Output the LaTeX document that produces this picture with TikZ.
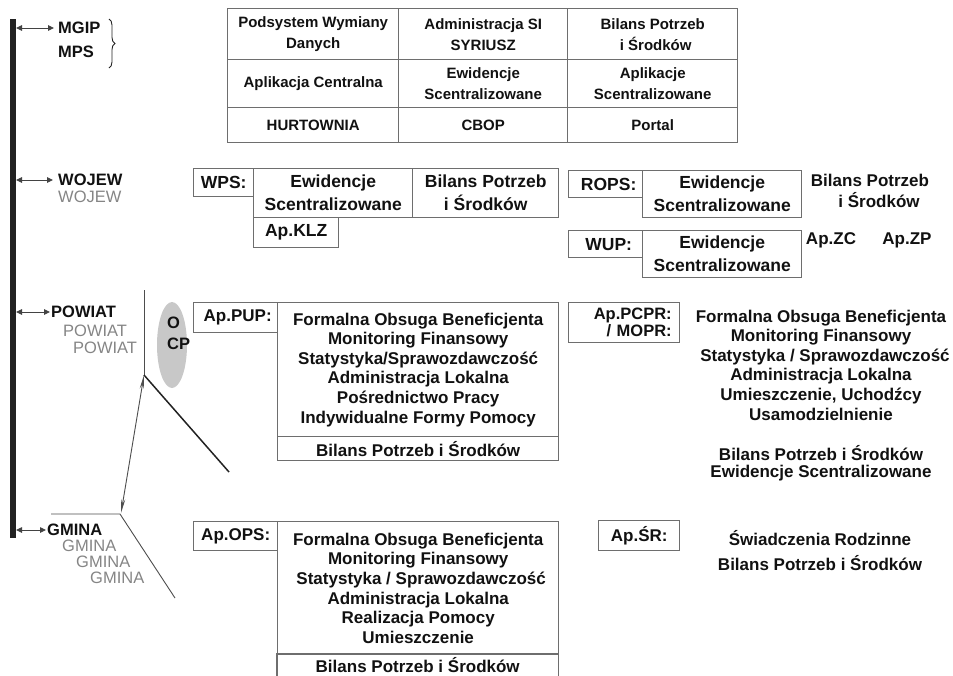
\documentclass[tikz,border=0pt]{standalone}
\usepackage{fontspec}
\setmainfont{Liberation Sans}
\usetikzlibrary{arrows.meta,decorations.pathreplacing,shapes.geometric}
\definecolor{boxline}{HTML}{6E6E6E}
\definecolor{txt}{HTML}{111111}
\definecolor{lgray}{HTML}{858585}
\definecolor{barc}{HTML}{222222}
\definecolor{ocpfill}{HTML}{C8C8C8}
\begin{document}
\begin{tikzpicture}[x=1pt,y=-1pt,
  box/.style={draw=boxline, line width=1.4pt, inner sep=1pt, anchor=north west, align=center, text=txt},
  tblf/.style={font=\fontsize{15}{21}\selectfont\bfseries},
  rowf/.style={font=\fontsize{17.5}{23}\selectfont\bfseries},
  listf/.style={font=\fontsize{17}{19.6}\selectfont\bfseries},
  lvl/.style={anchor=west, inner sep=0pt, font=\fontsize{16.5}{18}\selectfont\bfseries, text=txt},
  lvlg/.style={anchor=west, inner sep=0pt, font=\fontsize{16.5}{18}\selectfont, text=lgray},
  plain/.style={align=center, text=txt, inner sep=0pt},
  lvlarrow/.style={draw=barc!85, line width=0.9pt, {Triangle[length=6pt,width=5.5pt]}-{Triangle[length=6pt,width=5.5pt]}},
  guide/.style={draw=boxline!70!black, line width=0.9pt},
]
\useasboundingbox (0,0) rectangle (953,675);
% ---------- vertical bar and level labels
\fill[barc] (10,19) rectangle (16,538);
\coordinate (b1) at (16,28);
\coordinate (b2) at (16,180);
\coordinate (b3) at (16,312);
\coordinate (b4) at (16,530);
\node[lvl] (mgip) at (58,28) {MGIP};
\node[lvl] (mps) at (58,52) {MPS};
\node[lvl] (woj) at (58,180) {WOJEW};
\node[lvlg] (woj2) at (58,197) {WOJEW};
\node[lvl] (pow) at (51,312) {POWIAT};
\node[lvlg] (pow2) at (63,331) {POWIAT};
\node[lvlg] (pow3) at (73,348) {POWIAT};
\node[lvl] (gmi) at (47,530) {GMINA};
\node[lvlg] (gmi2) at (62,546) {GMINA};
\node[lvlg] (gmi3) at (76,562) {GMINA};
\node[lvlg] (gmi4) at (90,578) {GMINA};
\draw[lvlarrow] (b1) -- ([xshift=-4pt]mgip.west);
\draw[lvlarrow] (b2) -- ([xshift=-5pt]woj.west);
\draw[lvlarrow] (b3) -- ([xshift=-1pt]pow.west);
\draw[lvlarrow] (b4) -- ([xshift=-1pt]gmi.west);
\draw[barc, line width=0.9pt, decorate, decoration={brace, amplitude=6pt}] (109,19) -- (109,68);
% ---------- top table
\node[box, tblf, minimum width=171pt, minimum height=51pt] (t11) at (227,8) {Podsystem Wymiany\\Danych};
\node[box, tblf, minimum width=169pt, minimum height=51pt] (t12) at (398,8) {Administracja SI\\SYRIUSZ};
\node[box, tblf, minimum width=170pt, minimum height=51pt] (t13) at (567,8) {Bilans Potrzeb\\\hspace*{6pt}i Środków};
\node[box, tblf, minimum width=171pt, minimum height=48pt] (t21) at (227,59) {Aplikacja Centralna};
\node[box, tblf, minimum width=169pt, minimum height=48pt] (t22) at (398,59) {Ewidencje\\Scentralizowane};
\node[box, tblf, minimum width=170pt, minimum height=48pt] (t23) at (567,59) {Aplikacje\\Scentralizowane};
\node[box, tblf, minimum width=171pt, minimum height=35pt] (t31) at (227,107) {HURTOWNIA};
\node[box, tblf, minimum width=169pt, minimum height=35pt] (t32) at (398,107) {CBOP};
\node[box, tblf, minimum width=170pt, minimum height=35pt] (t33) at (567,107) {Portal};
% ---------- WOJEW row
\node[box, rowf, minimum width=60pt, minimum height=28pt] (wps) at (193,168) {WPS:};
\node[box, rowf, minimum width=159pt, minimum height=49pt] (wpsE) at (253,168) {Ewidencje\\Scentralizowane};
\node[box, rowf, minimum width=146pt, minimum height=49pt] (wpsB) at (412,168) {Bilans Potrzeb\\i Środków};
\node[box, rowf, minimum width=85pt, minimum height=30pt] (klz) at (253,217) {Ap.KLZ};
\node[box, rowf, minimum width=74pt, minimum height=27pt] (rops) at (568,170) {\hspace*{6pt}ROPS:};
\node[box, rowf, minimum width=159pt, minimum height=47pt] (ropsE) at (642,170) {Ewidencje\\Scentralizowane};
\node[plain, font=\fontsize{17}{21}\selectfont\bfseries] (ropsB) at (870,191) {Bilans Potrzeb\\\hspace*{18pt}i Środków};
\node[box, rowf, minimum width=74pt, minimum height=27pt] (wup) at (568,230) {\hspace*{6pt}WUP:};
\node[box, rowf, minimum width=159pt, minimum height=47pt] (wupE) at (642,230) {Ewidencje\\Scentralizowane};
\node[plain, font=\fontsize{17}{21}\selectfont\bfseries] (zc) at (831,240) {Ap.ZC};
\node[plain, font=\fontsize{17}{21}\selectfont\bfseries] (zp) at (907,240) {Ap.ZP};
% ---------- POWIAT row
\node[box, listf, minimum width=84pt, minimum height=30pt] (pup) at (193,302) {\hspace*{4pt}Ap.PUP:};
\node[box, listf, minimum width=281pt, minimum height=134pt] (pupL) at (277,302) {Formalna Obsuga Beneficjenta\\Monitoring Finansowy\\Statystyka/Sprawozdawczość\\Administracja Lokalna\\Pośrednictwo Pracy\\Indywidualne Formy Pomocy};
\node[box, listf, minimum width=281pt, minimum height=24pt] (pupB) at (277,436) {Bilans Potrzeb i Środków};
\node[box, font=\fontsize{16.5}{17}\selectfont\bfseries, align=right, text width=95pt, inner xsep=8pt, minimum height=40pt] (pcpr) at (568,302) {Ap.PCPR:\\/ MOPR:};
\node[plain, listf] (pcprL) at (821,365) {Formalna Obsuga Beneficjenta\\Monitoring Finansowy\\\hspace*{8pt}Statystyka / Sprawozdawczość\\Administracja Lokalna\\Umieszczenie, Uchodźcy\\Usamodzielnienie};
\node[plain, listf] (pcprB) at (821,453) {Bilans Potrzeb i Środków};
\node[plain, listf] (pcprE) at (821,473) {Ewidencje Scentralizowane};
% ---------- OCP and guide lines
\node[ellipse, fill=ocpfill, minimum width=30pt, minimum height=86pt, inner sep=0pt] (ocp) at (172,345) {};
\node[anchor=west, align=left, inner sep=0pt, font=\fontsize{16.5}{21}\selectfont\bfseries, text=txt] (ocpT) at (167,333) {O\\CP};
\coordinate (v1) at (144,290);
\coordinate (v2) at (144,375);
\coordinate (d1) at (229,472);
\coordinate (g1) at (121,513);
\coordinate (h1) at (51,514);
\coordinate (h2) at (120,514);
\coordinate (d2) at (175,598);
\draw[guide] (v1) -- (v2);
\draw[line width=1.5pt, barc] (v2) -- (d1);
\draw[guide, {Stealth[length=14pt,width=4pt]}-{Stealth[length=14pt,width=4pt]}] (v2) -- (g1);
\draw[guide] (h1) -- (h2) -- (d2);
% ---------- GMINA row
\node[box, listf, minimum width=84pt, minimum height=29pt] (ops) at (193,521) {Ap.OPS:};
\node[box, listf, minimum width=281pt, minimum height=133pt] (opsL) at (277,521) {Formalna Obsuga Beneficjenta\\Monitoring Finansowy\\\hspace*{6pt}Statystyka / Sprawozdawczość\\Administracja Lokalna\\Realizacja Pomocy\\Umieszczenie};
\node[anchor=north west, inner sep=0pt, minimum width=281pt, minimum height=22pt, listf, text=txt] (opsB) at (277,654) {Bilans Potrzeb i Środków};
\draw[draw=boxline, line width=1.4pt] (opsB.south west) -- (opsB.north west) -- (opsB.north east) -- (opsB.south east);
\node[box, listf, minimum width=81pt, minimum height=30pt] (sr) at (598,520) {Ap.ŚR:};
\node[plain, listf] (srT) at (820,538) {Świadczenia Rodzinne};
\node[plain, listf] (srB) at (820,563) {Bilans Potrzeb i Środków};
\end{tikzpicture}
\end{document}
